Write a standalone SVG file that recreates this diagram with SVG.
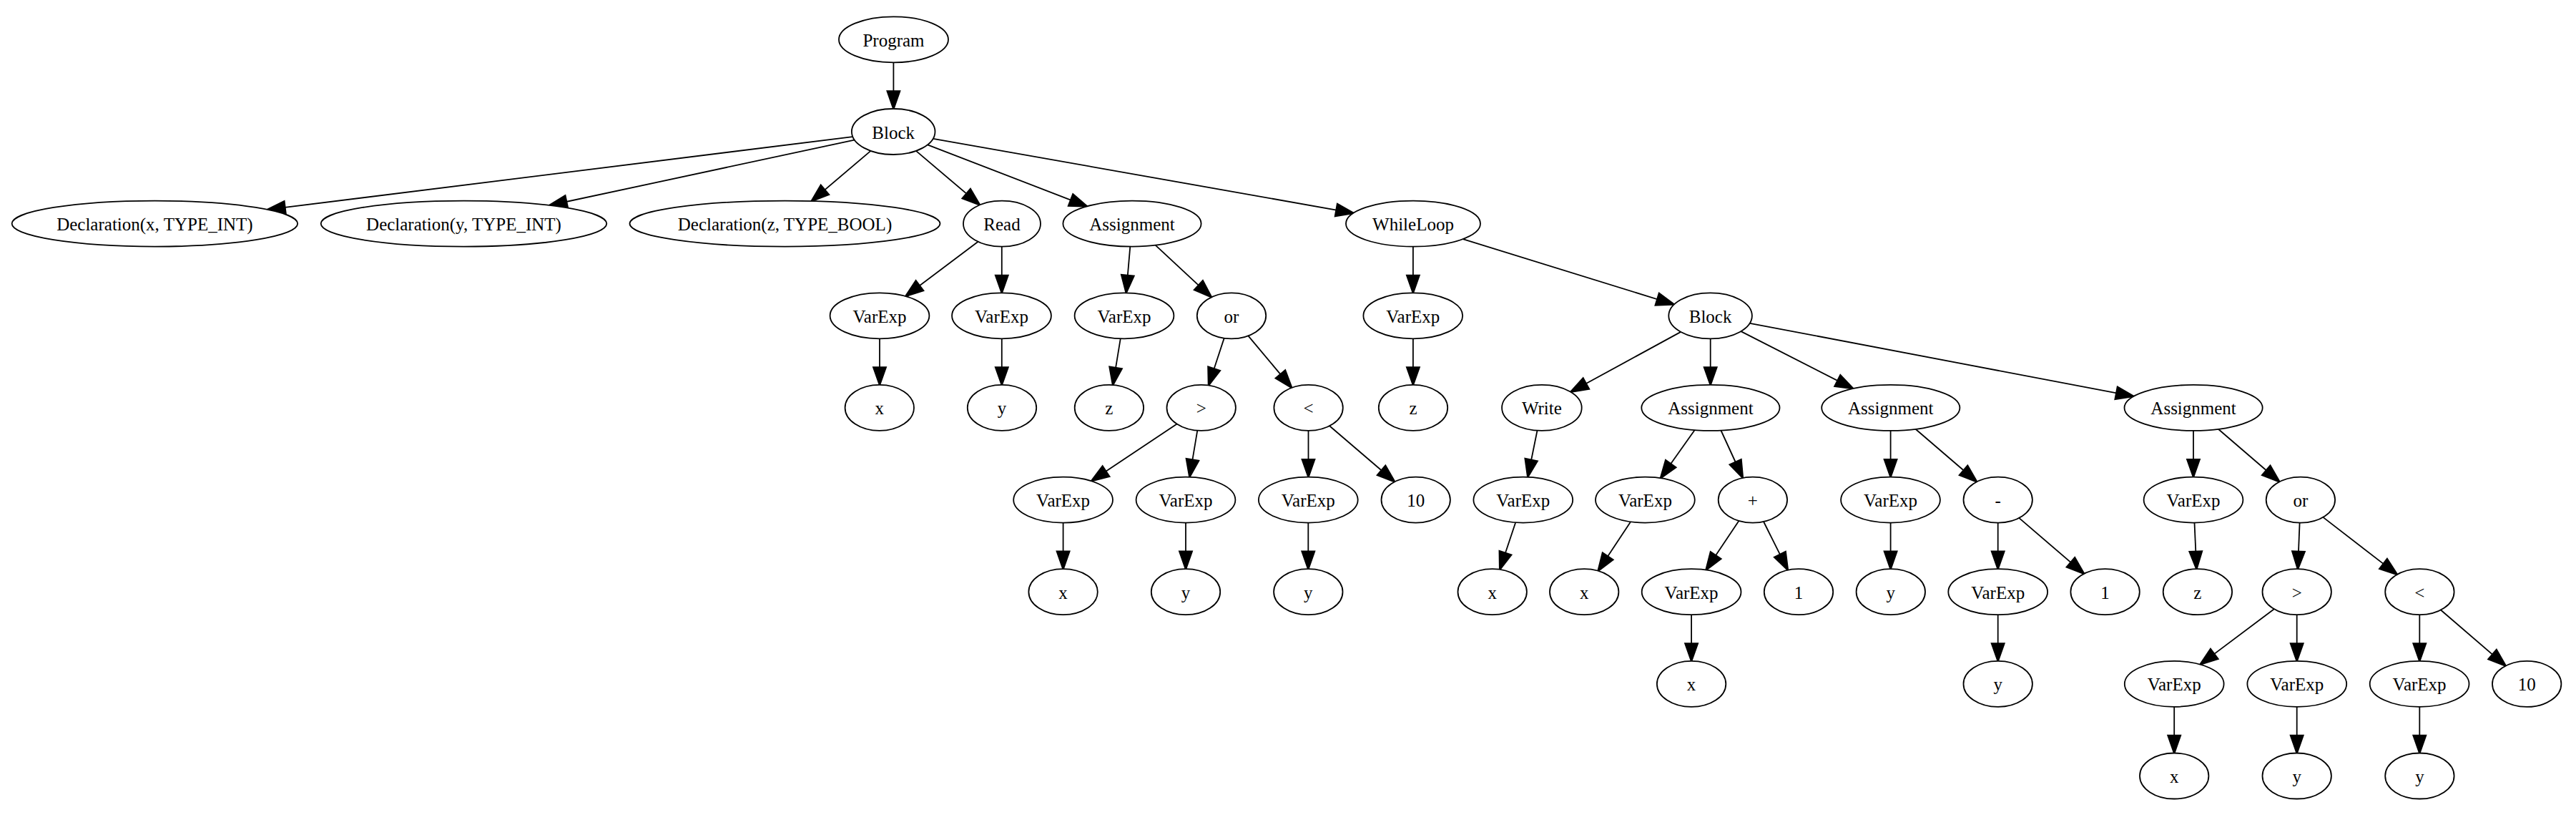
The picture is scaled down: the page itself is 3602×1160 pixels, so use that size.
<svg xmlns="http://www.w3.org/2000/svg" width="3602" height="1160" viewBox="0 0 3602 1160">
<style>
.node ellipse{fill:#fff;stroke:#000;stroke-width:1.8}
.node text{font-family:"Liberation Serif","Times New Roman",serif;font-size:25px;fill:#000;text-anchor:middle}
.edges line{stroke:#000;stroke-width:1.8;fill:none;marker-end:url(#arrow)}
</style>
<defs>
<marker id="arrow" markerUnits="userSpaceOnUse" markerWidth="30" markerHeight="30" refX="17.9" refY="0" orient="auto" viewBox="-2 -10 22 20" overflow="visible">
<path d="M0,-6.3 L17.9,0 L0,6.3 Z" fill="#000" stroke="#000" stroke-width="1.8"/>
</marker>
</defs>
<rect width="3602" height="1160" fill="#fff"/>
<g class="edges" id="connectors">
<line x1="1249.4" y1="87.3" x2="1249.4" y2="152"/>
<line x1="1192.2" y1="191.1" x2="374.2" y2="292.9"/>
<line x1="1194.7" y1="195.7" x2="768.2" y2="287.0"/>
<line x1="1217.5" y1="210.9" x2="1134.7" y2="281.1"/>
<line x1="1280.9" y1="210.9" x2="1370.0" y2="286.4"/>
<line x1="1297.0" y1="202.4" x2="1520.0" y2="288.3"/>
<line x1="1304.9" y1="193.8" x2="1892.6" y2="297.8"/>
<line x1="1367.6" y1="337.7" x2="1266.3" y2="414.0"/>
<line x1="1400.8" y1="344.6" x2="1400.8" y2="409.3"/>
<line x1="1580.3" y1="344.6" x2="1574.7" y2="409.3"/>
<line x1="1615.6" y1="342.7" x2="1693.9" y2="415.3"/>
<line x1="1975.9" y1="344.6" x2="1975.9" y2="409.3"/>
<line x1="2045.6" y1="334.1" x2="2340.7" y2="425.5"/>
<line x1="1230" y1="473.3" x2="1230" y2="537.9"/>
<line x1="1400.8" y1="473.3" x2="1400.8" y2="537.9"/>
<line x1="1566.8" y1="473.2" x2="1556.1" y2="538.1"/>
<line x1="1711.7" y1="472.6" x2="1690.0" y2="538.6"/>
<line x1="1745.4" y1="469.3" x2="1806.2" y2="541.9"/>
<line x1="1975.9" y1="473.3" x2="1975.9" y2="537.9"/>
<line x1="2350.2" y1="463.9" x2="2196.3" y2="547.8"/>
<line x1="2391.7" y1="473.3" x2="2391.7" y2="537.9"/>
<line x1="2434.4" y1="463.1" x2="2591.2" y2="543.1"/>
<line x1="2446.9" y1="451.8" x2="2983.3" y2="553.9"/>
<line x1="1645.7" y1="592.6" x2="1526.1" y2="672.3"/>
<line x1="1674.3" y1="601.7" x2="1663.4" y2="666.7"/>
<line x1="1829.5" y1="601.9" x2="1829.5" y2="666.6"/>
<line x1="1859.1" y1="595.2" x2="1950.2" y2="673.3"/>
<line x1="2149.5" y1="601.7" x2="2136.3" y2="666.7"/>
<line x1="2369.7" y1="601.0" x2="2322.0" y2="668.2"/>
<line x1="2406.4" y1="601.5" x2="2436.9" y2="668.0"/>
<line x1="2643.6" y1="601.9" x2="2643.6" y2="666.6"/>
<line x1="2678.6" y1="599.8" x2="2764.2" y2="673.3"/>
<line x1="3067" y1="601.9" x2="3067" y2="666.6"/>
<line x1="3101.9" y1="599.8" x2="3187.4" y2="673.3"/>
<line x1="1486.6" y1="730.6" x2="1486.6" y2="795.2"/>
<line x1="1658" y1="730.6" x2="1658" y2="795.2"/>
<line x1="1829.3" y1="730.6" x2="1829.3" y2="795.2"/>
<line x1="2119.2" y1="730.2" x2="2097.2" y2="796.0"/>
<line x1="2280.1" y1="729.2" x2="2234.6" y2="797.9"/>
<line x1="2431.4" y1="727.9" x2="2385.5" y2="796.6"/>
<line x1="2466.0" y1="729.0" x2="2499.9" y2="796.8"/>
<line x1="2643.6" y1="730.6" x2="2643.6" y2="795.2"/>
<line x1="2793.7" y1="730.6" x2="2793.7" y2="795.2"/>
<line x1="2823.2" y1="723.9" x2="2914.1" y2="801.9"/>
<line x1="3068.5" y1="730.6" x2="3071.4" y2="795.2"/>
<line x1="3215.6" y1="730.6" x2="3213.0" y2="795.2"/>
<line x1="3248.3" y1="722.9" x2="3352.0" y2="802.9"/>
<line x1="2365.1" y1="859.2" x2="2365.1" y2="923.9"/>
<line x1="2793.7" y1="859.2" x2="2793.7" y2="923.9"/>
<line x1="3179.8" y1="851.2" x2="3076.6" y2="928.6"/>
<line x1="3211.7" y1="859.2" x2="3211.7" y2="923.9"/>
<line x1="3383.3" y1="859.2" x2="3383.3" y2="923.9"/>
<line x1="3412.9" y1="852.5" x2="3503.7" y2="930.6"/>
<line x1="3040.2" y1="987.9" x2="3040.2" y2="1052.5"/>
<line x1="3211.7" y1="987.9" x2="3211.7" y2="1052.5"/>
<line x1="3383.3" y1="987.9" x2="3383.3" y2="1052.5"/>
</g>
<g id="n0" class="node"><ellipse cx="1249.5" cy="55.3" rx="76.5" ry="32"/><text x="1249.5" y="64.8">Program</text></g>
<g id="n1" class="node"><ellipse cx="1249.2" cy="184" rx="58.3" ry="32"/><text x="1249.2" y="193.5">Block</text></g>
<g id="n2" class="node"><ellipse cx="216.4" cy="312.6" rx="199.8" ry="32"/><text x="216.4" y="322.1">Declaration(x, TYPE_INT)</text></g>
<g id="n3" class="node"><ellipse cx="648.5" cy="312.6" rx="199.8" ry="32"/><text x="648.5" y="322.1">Declaration(y, TYPE_INT)</text></g>
<g id="n4" class="node"><ellipse cx="1097.5" cy="312.6" rx="217" ry="32"/><text x="1097.5" y="322.1">Declaration(z, TYPE_BOOL)</text></g>
<g id="n5" class="node"><ellipse cx="1401" cy="312.6" rx="54" ry="32"/><text x="1401" y="322.1">Read</text></g>
<g id="n6" class="node"><ellipse cx="1583" cy="312.6" rx="96.6" ry="32"/><text x="1583" y="322.1">Assignment</text></g>
<g id="n7" class="node"><ellipse cx="1976" cy="312.6" rx="94" ry="32"/><text x="1976" y="322.1">WhileLoop</text></g>
<g id="n8" class="node"><ellipse cx="1230" cy="441.3" rx="69.4" ry="32"/><text x="1230" y="450.8">VarExp</text></g>
<g id="n9" class="node"><ellipse cx="1400.5" cy="441.3" rx="69.4" ry="32"/><text x="1400.5" y="450.8">VarExp</text></g>
<g id="n10" class="node"><ellipse cx="1572" cy="441.3" rx="69.4" ry="32"/><text x="1572" y="450.8">VarExp</text></g>
<g id="n11" class="node"><ellipse cx="1722" cy="441.3" rx="48.2" ry="32"/><text x="1722" y="450.8">or</text></g>
<g id="n12" class="node"><ellipse cx="1975.8" cy="441.3" rx="69.4" ry="32"/><text x="1975.8" y="450.8">VarExp</text></g>
<g id="n13" class="node"><ellipse cx="2391.6" cy="441.3" rx="58.3" ry="32"/><text x="2391.6" y="450.8">Block</text></g>
<g id="n14" class="node"><ellipse cx="1229.8" cy="569.9" rx="48.2" ry="32"/><text x="1229.8" y="579.4">x</text></g>
<g id="n15" class="node"><ellipse cx="1401" cy="569.9" rx="48.2" ry="32"/><text x="1401" y="579.4">y</text></g>
<g id="n16" class="node"><ellipse cx="1550.9" cy="569.9" rx="48.2" ry="32"/><text x="1550.9" y="579.4">z</text></g>
<g id="n17" class="node"><ellipse cx="1679.7" cy="569.9" rx="48.2" ry="32"/><text x="1679.7" y="579.4">&gt;</text></g>
<g id="n18" class="node"><ellipse cx="1829.6" cy="569.9" rx="48.2" ry="32"/><text x="1829.6" y="579.4">&lt;</text></g>
<g id="n19" class="node"><ellipse cx="1976" cy="569.9" rx="48.2" ry="32"/><text x="1976" y="579.4">z</text></g>
<g id="n20" class="node"><ellipse cx="2155.9" cy="569.9" rx="55.8" ry="32"/><text x="2155.9" y="579.4">Write</text></g>
<g id="n21" class="node"><ellipse cx="2391.9" cy="569.9" rx="96.6" ry="32"/><text x="2391.9" y="579.4">Assignment</text></g>
<g id="n22" class="node"><ellipse cx="2643.8" cy="569.9" rx="96.6" ry="32"/><text x="2643.8" y="579.4">Assignment</text></g>
<g id="n23" class="node"><ellipse cx="3067.1" cy="569.9" rx="96.6" ry="32"/><text x="3067.1" y="579.4">Assignment</text></g>
<g id="n24" class="node"><ellipse cx="1486.6" cy="698.6" rx="69.4" ry="32"/><text x="1486.6" y="708.1">VarExp</text></g>
<g id="n25" class="node"><ellipse cx="1658" cy="698.6" rx="69.4" ry="32"/><text x="1658" y="708.1">VarExp</text></g>
<g id="n26" class="node"><ellipse cx="1829.3" cy="698.6" rx="69.4" ry="32"/><text x="1829.3" y="708.1">VarExp</text></g>
<g id="n27" class="node"><ellipse cx="1979.7" cy="698.6" rx="48.2" ry="32"/><text x="1979.7" y="708.1">10</text></g>
<g id="n28" class="node"><ellipse cx="2129.8" cy="698.6" rx="69.4" ry="32"/><text x="2129.8" y="708.1">VarExp</text></g>
<g id="n29" class="node"><ellipse cx="2300.4" cy="698.6" rx="69.4" ry="32"/><text x="2300.4" y="708.1">VarExp</text></g>
<g id="n30" class="node"><ellipse cx="2450.9" cy="698.6" rx="48.2" ry="32"/><text x="2450.9" y="708.1">+</text></g>
<g id="n31" class="node"><ellipse cx="2643.5" cy="698.6" rx="69.4" ry="32"/><text x="2643.5" y="708.1">VarExp</text></g>
<g id="n32" class="node"><ellipse cx="2793.7" cy="698.6" rx="48.2" ry="32"/><text x="2793.7" y="708.1">-</text></g>
<g id="n33" class="node"><ellipse cx="3067" cy="698.6" rx="69.4" ry="32"/><text x="3067" y="708.1">VarExp</text></g>
<g id="n34" class="node"><ellipse cx="3216.9" cy="698.6" rx="48.2" ry="32"/><text x="3216.9" y="708.1">or</text></g>
<g id="n35" class="node"><ellipse cx="1486.6" cy="827.2" rx="48.2" ry="32"/><text x="1486.6" y="836.7">x</text></g>
<g id="n36" class="node"><ellipse cx="1658" cy="827.2" rx="48.2" ry="32"/><text x="1658" y="836.7">y</text></g>
<g id="n37" class="node"><ellipse cx="1829.3" cy="827.2" rx="48.2" ry="32"/><text x="1829.3" y="836.7">y</text></g>
<g id="n38" class="node"><ellipse cx="2086.7" cy="827.2" rx="48.2" ry="32"/><text x="2086.7" y="836.7">x</text></g>
<g id="n39" class="node"><ellipse cx="2215.2" cy="827.2" rx="48.2" ry="32"/><text x="2215.2" y="836.7">x</text></g>
<g id="n40" class="node"><ellipse cx="2365.1" cy="827.2" rx="69.4" ry="32"/><text x="2365.1" y="836.7">VarExp</text></g>
<g id="n41" class="node"><ellipse cx="2515" cy="827.2" rx="48.2" ry="32"/><text x="2515" y="836.7">1</text></g>
<g id="n42" class="node"><ellipse cx="2643.8" cy="827.2" rx="48.2" ry="32"/><text x="2643.8" y="836.7">y</text></g>
<g id="n43" class="node"><ellipse cx="2793.7" cy="827.2" rx="69.4" ry="32"/><text x="2793.7" y="836.7">VarExp</text></g>
<g id="n44" class="node"><ellipse cx="2943.6" cy="827.2" rx="48.2" ry="32"/><text x="2943.6" y="836.7">1</text></g>
<g id="n45" class="node"><ellipse cx="3072.9" cy="827.2" rx="48.2" ry="32"/><text x="3072.9" y="836.7">z</text></g>
<g id="n46" class="node"><ellipse cx="3211.7" cy="827.2" rx="48.2" ry="32"/><text x="3211.7" y="836.7">&gt;</text></g>
<g id="n47" class="node"><ellipse cx="3383.4" cy="827.2" rx="48.2" ry="32"/><text x="3383.4" y="836.7">&lt;</text></g>
<g id="n48" class="node"><ellipse cx="2365.1" cy="955.9" rx="48.2" ry="32"/><text x="2365.1" y="965.4">x</text></g>
<g id="n49" class="node"><ellipse cx="2793.7" cy="955.9" rx="48.2" ry="32"/><text x="2793.7" y="965.4">y</text></g>
<g id="n50" class="node"><ellipse cx="3040.2" cy="955.9" rx="69.4" ry="32"/><text x="3040.2" y="965.4">VarExp</text></g>
<g id="n51" class="node"><ellipse cx="3211.8" cy="955.9" rx="69.4" ry="32"/><text x="3211.8" y="965.4">VarExp</text></g>
<g id="n52" class="node"><ellipse cx="3383.1" cy="955.9" rx="69.4" ry="32"/><text x="3383.1" y="965.4">VarExp</text></g>
<g id="n53" class="node"><ellipse cx="3533.2" cy="955.9" rx="48.2" ry="32"/><text x="3533.2" y="965.4">10</text></g>
<g id="n54" class="node"><ellipse cx="3040.2" cy="1084.5" rx="48.2" ry="32"/><text x="3040.2" y="1094">x</text></g>
<g id="n55" class="node"><ellipse cx="3211.7" cy="1084.5" rx="48.2" ry="32"/><text x="3211.7" y="1094">y</text></g>
<g id="n56" class="node"><ellipse cx="3383.4" cy="1084.5" rx="48.2" ry="32"/><text x="3383.4" y="1094">y</text></g>
</svg>
